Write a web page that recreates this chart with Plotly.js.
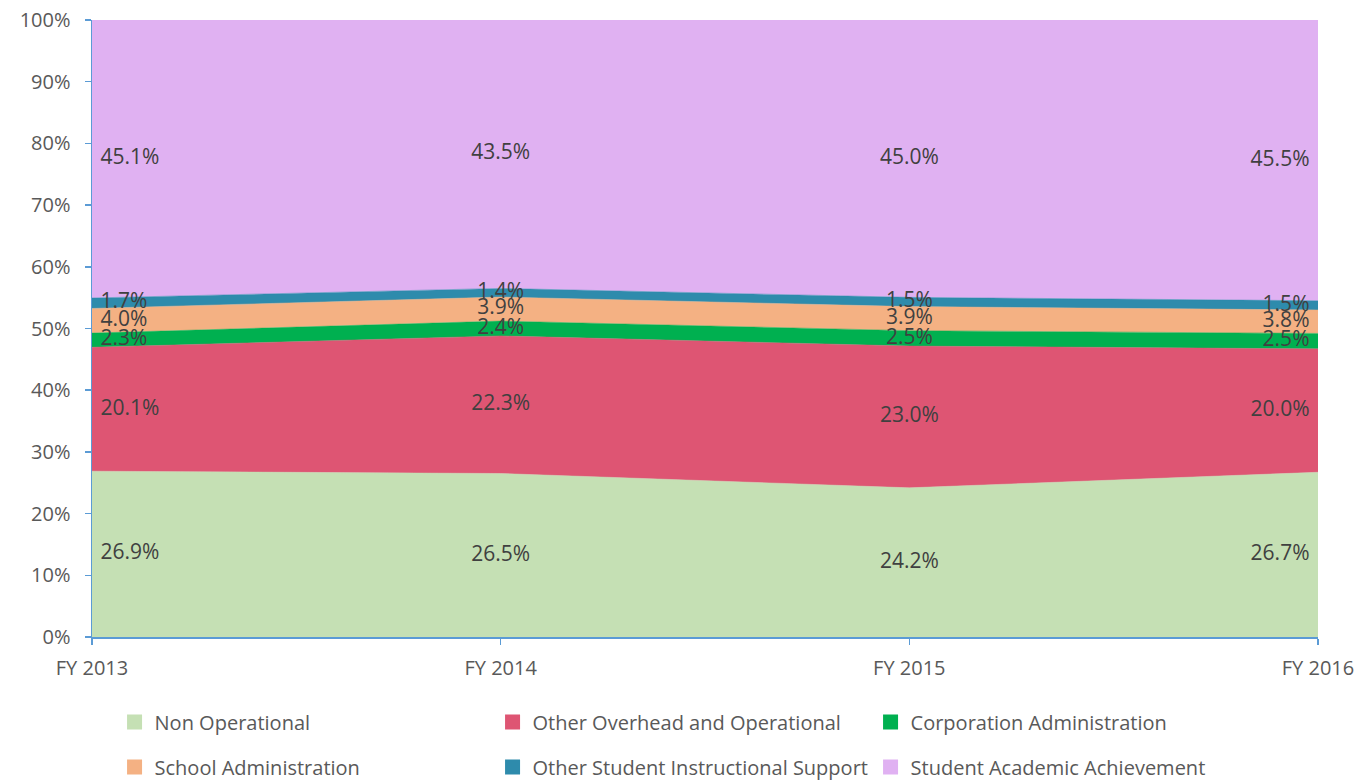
<!DOCTYPE html>
<html>
<head>
<meta charset="utf-8">
<script src="https://cdn.plot.ly/plotly-3.0.1.min.js"></script>
<style>html,body{margin:0;padding:0;background:#fff;}#chart{width:1362px;height:782px;}</style>
</head>
<body>
<div id="chart"></div>
<script>
const years = ["FY 2013", "FY 2014", "FY 2015", "FY 2016"];
const nonOperational = [26.9, 26.5, 24.2, 26.7];
const otherOverhead = [20.1, 22.3, 23.0, 20.0];
const corporationAdmin = [2.3, 2.4, 2.5, 2.5];
const schoolAdmin = [4.0, 3.9, 3.9, 3.8];
const otherStudentSupport = [1.7, 1.4, 1.5, 1.5];
const studentAcademic = [45.1, 43.5, 45.0, 45.5];

const seriesNames = ["Non Operational", "Other Overhead and Operational", "Corporation Administration",
  "School Administration", "Other Student Instructional Support", "Student Academic Achievement"];
const seriesValues = [nonOperational, otherOverhead, corporationAdmin, schoolAdmin, otherStudentSupport, studentAcademic];
const colors = ["#C5E0B4", "#DE5573", "#00B050", "#F4B183", "#2E8BAC", "#E0B1F2"];
const legendFor = ["legend", "legend", "legend", "legend2", "legend2", "legend2"];

const FONT = "Open Sans, sans-serif";
const traces = [];
seriesValues.forEach((vals, i) => {
  traces.push({
    type: "scatter", mode: "lines", x: years, y: vals, name: seriesNames[i],
    stackgroup: "one", groupnorm: i === 0 ? "percent" : undefined,
    fillcolor: colors[i], line: {color: colors[i], width: 0.5},
    showlegend: false, hoverinfo: "skip"
  });
});

// labels at midpoints of each band (normalized to 100)
const totals = years.map((_, j) => seriesValues.reduce((s, v) => s + v[j], 0));
const cum = years.map(() => 0);
const positions = ["middle right", "middle center", "middle center", "middle left"];
seriesValues.forEach((vals, i) => {
  const ys = vals.map((v, j) => {
    const a = cum[j] / totals[j] * 100;
    const b = (cum[j] + v) / totals[j] * 100;
    cum[j] += v;
    return (a + b) / 2;
  });
  traces.push({
    type: "scatter", mode: "markers+text", x: years, y: ys,
    marker: {size: 12, opacity: 0},
    text: vals.map(v => v.toFixed(1) + "%"), textposition: positions,
    textfont: {family: FONT, size: 21, color: "#404040"},
    showlegend: false, hoverinfo: "skip", cliponaxis: false
  });
});

// legend entries with square swatches
seriesNames.forEach((name, i) => {
  traces.push({
    type: "scatter", mode: "markers", x: [null], y: [null], name: name,
    marker: {symbol: "square", size: 15, color: colors[i]},
    legend: legendFor[i], showlegend: true, hoverinfo: "skip"
  });
});

const legendCommon = {
  orientation: "h", xanchor: "left", yanchor: "middle", entrywidth: 333, entrywidthmode: "pixels",
  font: {family: FONT, size: 20, color: "#595959"}, traceorder: "normal",
  bgcolor: "rgba(0,0,0,0)", itemwidth: 30
};

const layout = {
  width: 1362, height: 782,
  margin: {l: 92, r: 44, t: 20, b: 145, autoexpand: false},
  paper_bgcolor: "#ffffff", plot_bgcolor: "#ffffff",
  showlegend: true,
  xaxis: {
    type: "category", range: [0, 3], showgrid: false, zeroline: false,
    showline: true, linecolor: "#5B9BD5", linewidth: 1.5,
    ticks: "outside", ticklen: 6, tickcolor: "#5B9BD5", tickwidth: 1.5,
    ticklabelstandoff: 6,
    tickfont: {family: FONT, size: 20, color: "#595959"}
  },
  yaxis: {
    range: [0, 100], dtick: 10, ticksuffix: "%", showgrid: false, zeroline: false,
    showline: true, linecolor: "#5B9BD5", linewidth: 1.5,
    ticks: "outside", ticklen: 6, tickcolor: "#5B9BD5", tickwidth: 1.5,
    ticklabelstandoff: 10,
    tickfont: {family: FONT, size: 20, color: "#595959"}
  },
  legend: Object.assign({}, legendCommon, {x: 0.0184, y: -0.1378}),
  legend2: Object.assign({}, legendCommon, {x: 0.0184, y: -0.2107})
};

Plotly.newPlot("chart", traces, layout, {displayModeBar: false, staticPlot: true});
</script>
</body>
</html>
